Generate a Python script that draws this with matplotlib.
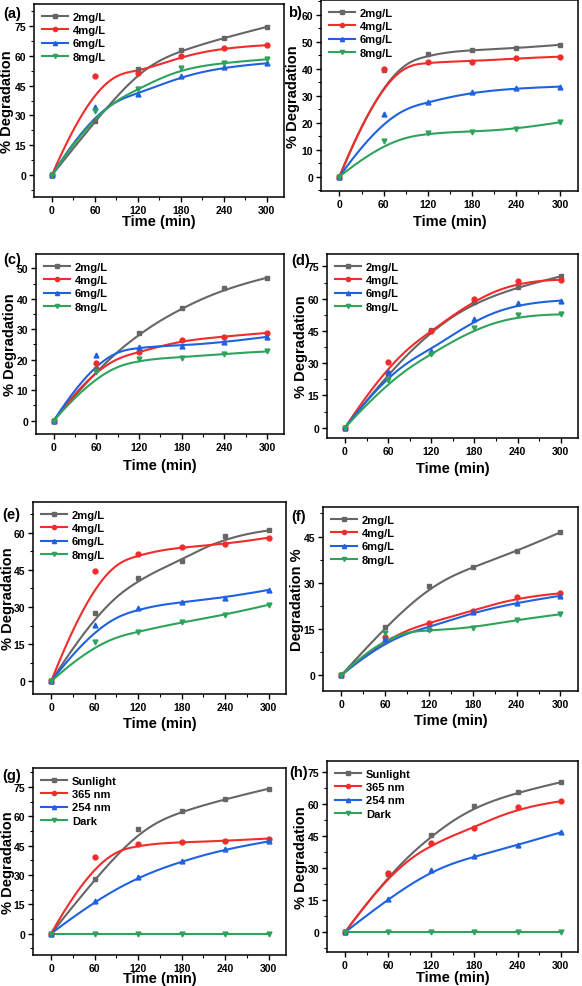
import numpy as np
import matplotlib
matplotlib.use("Agg")
import matplotlib.pyplot as plt
from matplotlib.ticker import MultipleLocator

plt.rcParams['font.family'] = ['Liberation Sans', 'DejaVu Sans']
plt.rcParams['font.weight'] = 'bold'
plt.rcParams['axes.labelweight'] = 'bold'

# sampling times (min)
time = [0, 60, 120, 180, 240, 300]

conc_labels = ['2mg/L', '4mg/L', '6mg/L', '8mg/L']
light_labels = ['Sunlight', '365 nm', '254 nm', 'Dark']

# % degradation
a_vals = [[0, 27.0, 53.2, 62.8, 69.0, 74.5],
          [0, 49.8, 51.2, 59.9, 64.1, 65.3],
          [0, 34.2, 40.6, 49.8, 54.4, 56.2],
          [0, 32.2, 43.1, 54.0, 56.5, 58.2]]
b_vals = [[0, 39.5, 45.6, 47.0, 47.6, 48.9],
          [0, 40.1, 42.6, 42.7, 43.9, 44.5],
          [0, 23.1, 27.7, 31.4, 32.8, 33.4],
          [0, 13.2, 16.3, 16.7, 17.6, 20.2]]
c_vals = [[0, 16.9, 28.9, 37.0, 43.4, 46.9],
          [0, 18.8, 22.4, 26.5, 27.6, 28.8],
          [0, 21.6, 24.3, 24.6, 25.7, 27.5],
          [0, 16.0, 20.2, 20.7, 22.0, 22.7]]
d_vals = [[0, 25.5, 45.5, 58.5, 65.5, 70.4],
          [0, 30.5, 44.8, 59.8, 68.3, 68.8],
          [0, 26.1, 35.9, 50.6, 58.0, 59.1],
          [0, 22.0, 34.3, 46.2, 52.4, 52.7]]
e_vals = [[0, 27.6, 41.7, 48.7, 58.6, 60.9],
          [0, 44.4, 51.5, 54.3, 55.3, 58.0],
          [0, 22.8, 29.7, 32.0, 33.8, 36.9],
          [0, 15.8, 20.1, 23.9, 26.8, 30.9]]
f_vals = [[0, 15.7, 29.1, 35.2, 40.2, 46.4],
          [0, 12.3, 17.1, 20.9, 25.3, 26.6],
          [0, 11.7, 15.5, 20.4, 23.6, 25.8],
          [0, 13.6, 14.6, 15.3, 18.0, 19.8]]
g_vals = [[0, 27.9, 53.3, 62.7, 68.8, 74.1],
          [0, 39.4, 45.7, 46.7, 47.4, 48.6],
          [0, 16.8, 29.1, 37.0, 43.3, 47.1],
          [0, 0, 0, 0, 0, 0]]
h_vals = [[0, 27.1, 45.4, 59.1, 65.3, 70.0],
          [0, 27.6, 41.6, 48.7, 58.3, 61.1],
          [0, 15.7, 29.2, 35.4, 40.7, 46.6],
          [0, 0, 0, 0, 0, 0]]

colors = ['#666666', '#f22b2b', '#1f62e0', '#2ea35c']
markers = ['s', 'o', '^', 'v']

W, H = 582, 987

# panel: tag, data, labels, box px (l, t, r, b), ylim, ystep, ylabel, ylabel x, xlabel top, tag pos
panels = [
    ('(a)', a_vals, conc_labels, (34, 5, 284, 198), (-11, 86), 15, '% Degradation', 7, 215, (3, 14)),
    ('b)', b_vals, conc_labels, (321, 1, 578, 192), (-5.3, 65.5), 10, '% Degradation', 293, 215, (288, 13)),
    ('(c)', c_vals, conc_labels, (36, 255, 284, 435), (-4.4, 54.7), 10, '% Degradation', 10, 459, (3, 260)),
    ('(d)', d_vals, conc_labels, (327, 255, 578, 439), (-4.8, 80.8), 15, '% Degradation', 301, 462, (291, 261)),
    ('(e)', e_vals, conc_labels, (33, 503, 286, 695), (-5.1, 72.4), 15, '% Degradation', 8, 717, (2, 515)),
    ('(f)', f_vals, conc_labels, (323, 508, 578, 692), (-5.1, 54.6), 15, 'Degradation %', 297, 714, (291, 517)),
    ('(g)', g_vals, light_labels, (33, 769, 286, 956), (-11, 84.7), 15, '% Degradation', 8, 972, (2, 776)),
    ('(h)', h_vals, light_labels, (327, 762, 578, 953), (-9.2, 79.9), 15, '% Degradation', 301, 971, (289, 773)),
]


def bspline(xs, ys, num=300):
    # clamped cubic B-spline with the data points as control points
    P = np.column_stack([xs, ys]).astype(float)
    n, p = len(P), 3
    knots = np.concatenate([np.zeros(p), np.arange(n - p + 1), np.full(p, n - p)]).astype(float)
    t = np.linspace(0, n - p, num)
    N = np.zeros((num, len(knots) - 1))
    for i in range(len(knots) - 1):
        N[:, i] = (knots[i] <= t) & (t < knots[i + 1])
    N[t == knots[-1], n - 1] = 1
    for k in range(1, p + 1):
        for i in range(len(knots) - 1 - k):
            d1 = knots[i + k] - knots[i]
            d2 = knots[i + k + 1] - knots[i + 1]
            a = (t - knots[i]) / d1 * N[:, i] if d1 > 0 else 0
            b = (knots[i + k + 1] - t) / d2 * N[:, i + 1] if d2 > 0 else 0
            N[:, i] = a + b
    C = N[:, :n] @ P
    return C[:, 0], C[:, 1]


fig = plt.figure(figsize=(W / 100, H / 100), dpi=100)

for tag, vals, labels, box, ylim, ystep, ylab, ylx, xlt, tpos in panels:
    l, t, r, b = box
    ax = fig.add_axes([l / W, 1 - b / H, (r - l) / W, (b - t) / H])
    for v, lab, c, m in zip(vals, labels, colors, markers):
        sx, sy = bspline(time, v)
        ax.plot(sx, sy, color=c, lw=1.5, zorder=2)
        ax.plot(time, v, ls='none', marker=m, ms=3.5, color=c, zorder=3)
        ax.plot([], [], color=c, lw=1.5, marker=m, ms=3, label=lab)
    ax.set_xlim(-25, 324)
    ax.set_ylim(*ylim)
    ax.xaxis.set_major_locator(MultipleLocator(60))
    ax.xaxis.set_minor_locator(MultipleLocator(30))
    ax.yaxis.set_major_locator(MultipleLocator(ystep))
    ax.yaxis.set_minor_locator(MultipleLocator(ystep / 2))
    ax.tick_params(which='major', length=3.5, width=1, labelsize=7.5, pad=2)
    ax.tick_params(which='minor', length=2, width=0.8)
    for s in ax.spines.values():
        s.set_linewidth(1.1)
    ax.set_xlabel('Time (min)', fontsize=10.5, fontweight='bold', va='top')
    ax.xaxis.set_label_coords(0.5, (b - xlt) / (b - t))
    ax.set_ylabel(ylab, fontsize=10.5, fontweight='bold', va='center')
    ax.yaxis.set_label_coords((ylx - l) / (r - l), 0.5)
    ax.legend(loc='upper left', frameon=False, handlelength=2.4,
              handletextpad=0.4, labelspacing=0.3, borderaxespad=0.3,
              borderpad=0.4, prop={'weight': 'bold', 'size': 8})
    fig.text(tpos[0] / W, 1 - tpos[1] / H, tag, fontsize=10.5, fontweight='bold',
             ha='left', va='center')

fig.savefig('out.png', dpi=100)
